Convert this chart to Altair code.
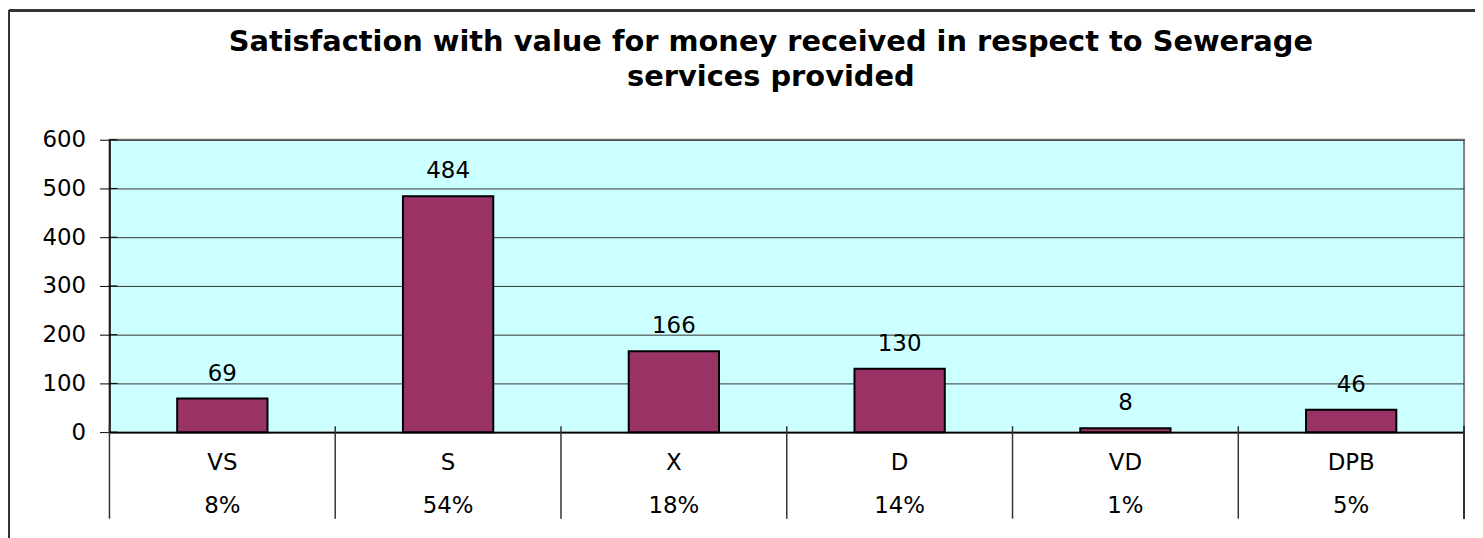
import altair as alt
import pandas as pd

categories = ["VS", "S", "X", "D", "VD", "DPB"]
counts = [69, 484, 166, 130, 8, 46]
percents = ["8%", "54%", "18%", "14%", "1%", "5%"]
y_ticks = [0, 100, 200, 300, 400, 500, 600]
title_lines = ["Satisfaction with  value for money received in respect to Sewerage",
               "services provided"]

df = pd.DataFrame({"cat": categories, "count": counts, "pct": percents})
df["label"] = df["cat"] + "|" + df["pct"]
order = list(df["label"])
tick_df = pd.DataFrame({"count": y_ticks})

W, H = 1362, 294
FONT = "DejaVu Sans"
FS = 23

x_axis = alt.Axis(title=None, labelExpr="split(datum.label, '|')", labelAngle=0,
                  ticks=False, domainColor="black", domainWidth=1.5, labelFont=FONT,
                  labelFontSize=FS, labelColor="black", labelLineHeight=43,
                  labelPadding=20, grid=False)
y_axis = alt.Axis(title=None, values=y_ticks, tickSize=10, tickColor="black",
                  labelPadding=14, grid=True, gridColor="#333333", gridWidth=1,
                  domainColor="black", domainWidth=1.5, labelFont=FONT,
                  labelFontSize=FS, labelColor="black")
x_scale = alt.Scale(paddingInner=0, paddingOuter=0)
y_scale = alt.Scale(domain=[0, 600], nice=False)

x = alt.X("label:N", sort=order, scale=x_scale, axis=x_axis)
y = alt.Y("count:Q", scale=y_scale, axis=y_axis)

base = alt.Chart(df)
bars = base.mark_bar(width=alt.RelativeBandSize(0.4), color="#993366",
                     stroke="black", strokeWidth=2).encode(x=x, y=y)
texts = base.mark_text(baseline="bottom", dy=-13, font=FONT, fontSize=FS,
                       color="black").encode(x=x, y=y, text="count:Q")
seps = base.mark_rule(color="#333333", strokeWidth=1.5).encode(
    x=alt.X("label:N", sort=order, scale=x_scale, axis=x_axis, bandPosition=0),
    y=alt.value(288), y2=alt.value(381))
end_sep = base.mark_rule(color="#333333", strokeWidth=1.5).encode(
    x=alt.value(W), y=alt.value(288), y2=alt.value(381))
inner_ticks = alt.Chart(tick_df).mark_rule(color="black", strokeWidth=1).encode(
    y=y, x=alt.value(0), x2=alt.value(8))
frame_left = base.mark_rule(color="#333333", strokeWidth=2).encode(
    x=alt.value(-101), y=alt.value(-130), y2=alt.value(H + 120))
frame_top = base.mark_rule(color="#333333", strokeWidth=2).encode(
    x=alt.value(-101), x2=alt.value(W + 30), y=alt.value(-130))

chart = alt.layer(bars, texts, seps, end_sep, inner_ticks, frame_left, frame_top).properties(
    width=W, height=H,
    title=alt.TitleParams(title_lines, font=FONT, fontSize=29, fontWeight="bold",
                          color="black", anchor="middle", dx=-16, offset=0, dy=83,
                          lineHeight=35),
    padding={"left": 102, "top": 131, "right": 11, "bottom": 105},
    autosize="none",
    background="white",
).configure_view(stroke="#808080", strokeWidth=2, fill="#CCFFFF")

chart.save("out.html", embed_options={"renderer": "svg", "actions": False})
